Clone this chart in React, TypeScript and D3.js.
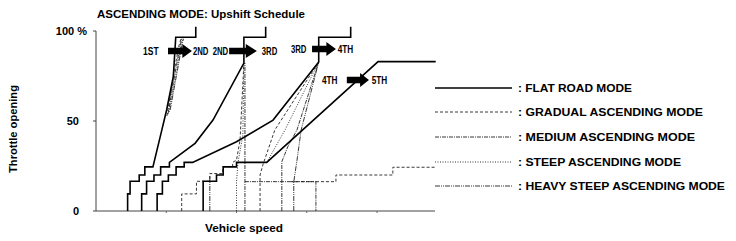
import React from "react";
import * as d3 from "d3";

// ---------- data (speed units: tick every 20; throttle %) ----------
const xTickValues = [20, 40, 60, 80];
const yTickValues = [0, 50, 100];
const yTickLabels = ["0", "50", "100 %"];

type P = [number, number];

const flat12: P[] = [[9.0,0],[9.0,9.5],[9.7,9.5],[9.7,16.5],[12.3,16.5],[12.3,20],[13.9,20],[13.9,24.5],[16.2,24.5],[18.2,40.6],[20.1,56.1],[22.0,74.6],[22.7,96.5],[28.4,96.5],[28.4,102.4]];
const flat23: P[] = [[13.0,0],[13.0,9.5],[14.4,9.5],[14.4,16.5],[16.5,16.5],[16.5,20],[18.4,20],[18.4,24.5],[20.9,24.5],[20.9,27],[28.2,37.6],[33.3,50.5],[42.1,82.2],[42.1,96.5],[48.3,96.5],[48.3,102.4]];
const flat34: P[] = [[17.4,0],[17.4,9.5],[18.9,9.5],[18.9,16.5],[20.6,16.5],[20.6,20],[22.8,20],[22.8,24.5],[25.1,24.5],[25.1,27],[27.5,27],[40.0,38.5],[50.4,50.5],[63.4,82.8],[63.4,96.5],[72.5,96.5],[72.5,102.4]];
const flat45: P[] = [[30.5,0],[30.5,16.5],[34.3,16.5],[34.3,20],[36.2,20],[36.2,24.5],[40.0,24.5],[40.0,27],[48.6,27],[80.3,83],[96.7,83]];

const gradual: P[][] = [
  [[20.2,52.8],[22.2,77.2],[23.6,91.7],[24.3,96.7]],
  [[24.4,0],[24.4,9.5],[28.6,9.5],[28.6,16.5],[32.4,16.5],[32.4,20.8],[36.1,20.8],[36.1,24.6],[38.9,24.6],[38.9,27],[40,28.3],[41,39.4],[42.1,82.2]],
  [[46.7,0],[46.7,20],[47.5,25.6],[50.9,45],[63.4,82.8]],
  [[55.5,16.3],[68.3,16.3],[68.3,20],[84.5,20],[84.5,24.3],[96.7,24.3]],
];
const medium: P[][] = [
  [[20.5,53.9],[22.6,77.8],[24.0,92.2],[24.5,96.7]],
  [[42.4,0],[42.4,82.2]],
  [[52.9,0],[52.9,27.4],[54.6,35.7],[57.2,45],[63.4,82.8]],
  [[42.4,16.3],[62.6,16.3],[62.6,0]],
];
const steep: P[][] = [
  [[20.8,55],[23.0,78.3],[24.3,92.8],[24.8,96.1]],
  [[40,0],[40,16.3],[40.4,26.7],[41.8,42.2],[42.1,82.2]],
  [[48.6,27],[53.8,45],[63.4,82.8]],
];
const heavy: P[][] = [
  [[21.1,56.1],[23.3,79.4],[24.5,92.8],[24.9,95.6]],
  [[56.3,0],[56.3,16.3],[57.2,28],[58.4,45],[63.4,82.8]],
  [[32.4,0],[32.4,20]],
];

// shift arrows: [xStart, xEnd, throttle]
const arrows: [number, number, number][] = [
  [20.5, 27.3, 88.9],
  [37.9, 45.8, 88.9],
  [61.5, 68.3, 90],
  [71.4, 77.7, 72.8],
];
const shiftLabels = ["1ST", "2ND", "2ND", "3RD", "3RD", "4TH", "4TH", "5TH"];
const shiftLabelX = [13.4, 27.6, 33.2, 47.2, 55.5, 68.8, 64.3, 78.5];
const shiftLabelY = [88.9, 88.9, 88.9, 88.9, 90, 90, 72.8, 72.8];

const legendLabels = [
  ": FLAT ROAD MODE",
  ": GRADUAL ASCENDING MODE",
  ": MEDIUM ASCENDING MODE",
  ": STEEP ASCENDING MODE",
  ": HEAVY STEEP ASCENDING MODE",
];
const legendWidths = [114, 185, 177, 163, 207];

// ---------- drawing ----------
const FONT = "'Liberation Sans', Arial, Helvetica, sans-serif";
const dashes = [null, "3,2", "4,1,1,1", "1,1.5", "5,1,1,1,1,1"];

export default function App() {
  const x = d3.scaleLinear().domain([0, 96.5]).range([96, 435]);
  const y = d3.scaleLinear().domain([0, 100]).range([211, 31]);
  const line = d3.line<P>().x((d) => x(d[0])).y((d) => y(d[1]));

  const modeSets = [gradual, medium, steep, heavy];
  const legendY = [88, 112, 137, 162, 186];

  return (
    <svg
      width={736}
      height={241}
      style={{ position: "absolute", left: 0, top: 0, background: "#fff" }}
      fontFamily={FONT}
      fontWeight="bold"
    >
      <rect width={736} height={241} fill="#fff" />
      <text x={97} y={18} fontSize={11.5} textLength={208} lengthAdjust="spacingAndGlyphs">
        ASCENDING MODE: Upshift Schedule
      </text>

      {/* axes */}
      <line x1={x(0)} x2={x(0)} y1={y(100)} y2={y(0)} stroke="#444" strokeWidth={1} />
      <line x1={x(0)} x2={x(96.5)} y1={y(0)} y2={y(0)} stroke="#444" strokeWidth={1} />
      {yTickValues.map((v) => (
        <line key={"yt" + v} x1={x(0) - 3} x2={x(0)} y1={y(v)} y2={y(v)} stroke="#444" strokeWidth={1} />
      ))}
      {xTickValues.map((v) => (
        <line key={"xt" + v} x1={x(v)} x2={x(v)} y1={y(0)} y2={y(0) + 2} stroke="#666" strokeWidth={1} />
      ))}
      {yTickValues.map((v, i) => (
        <text key={"yl" + v} x={i === 2 ? 87 : 79} y={y(v) + 4} fontSize={11} textAnchor="end">
          {yTickLabels[i]}
        </text>
      ))}
      <text x={244} y={232} fontSize={11} textAnchor="middle" textLength={78} lengthAdjust="spacingAndGlyphs">
        Vehicle speed
      </text>
      <text
        transform="translate(17,129) rotate(-90)"
        fontSize={11}
        textAnchor="middle"
        textLength={88}
        lengthAdjust="spacingAndGlyphs"
      >
        Throttle opening
      </text>

      {/* ascending mode lines */}
      {modeSets.map((set, mi) =>
        set.map((s, si) => (
          <path
            key={"m" + mi + "-" + si}
            d={line(s) || ""}
            fill="none"
            stroke="#222"
            strokeWidth={0.9}
            strokeDasharray={dashes[mi + 1] || undefined}
          />
        ))
      )}

      {/* flat road mode */}
      {[flat12, flat23, flat34, flat45].map((s, i) => (
        <path key={"f" + i} d={line(s) || ""} fill="none" stroke="#000" strokeWidth={1.6} strokeLinejoin="miter" />
      ))}

      {/* shift arrows */}
      {arrows.map(([a, b, t], i) => {
        const x0 = x(a);
        const x1 = x(b);
        const yc = y(t);
        const head = (x1 - x0) * 0.4;
        const d = `M${x0},${yc - 3.3}L${x1 - head},${yc - 3.3}L${x1 - head},${yc - 7}L${x1},${yc}L${x1 - head},${yc + 7}L${x1 - head},${yc + 3.3}L${x0},${yc + 3.3}Z`;
        return <path key={"a" + i} d={d} fill="#000" />;
      })}
      {shiftLabels.map((s, i) => (
        <text
          key={"sl" + i}
          x={x(shiftLabelX[i])}
          y={y(shiftLabelY[i]) + 3.6}
          fontSize={10}
          textLength={15.5}
          lengthAdjust="spacingAndGlyphs"
        >
          {s}
        </text>
      ))}

      {/* legend */}
      {legendLabels.map((lab, i) => (
        <g key={"lg" + i}>
          <line
            x1={435}
            x2={512}
            y1={legendY[i]}
            y2={legendY[i]}
            stroke={i === 0 ? "#000" : "#222"}
            strokeWidth={i === 0 ? 1.4 : 0.9}
            strokeDasharray={dashes[i] || undefined}
          />
          <text x={518} y={legendY[i] + 4} fontSize={11} textLength={legendWidths[i]} lengthAdjust="spacingAndGlyphs">
            {lab}
          </text>
        </g>
      ))}
    </svg>
  );
}
